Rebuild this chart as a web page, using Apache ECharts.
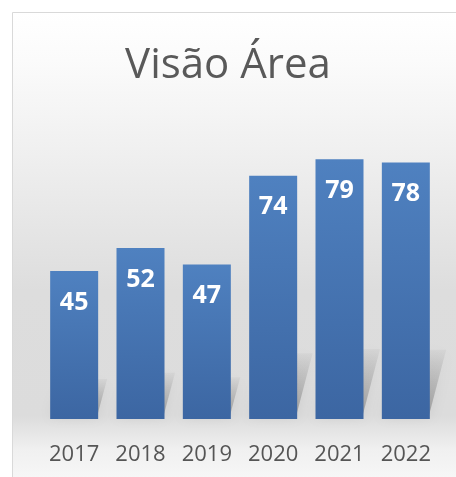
<!DOCTYPE html>
<html>
<head>
<meta charset="utf-8">
<script src="https://cdn.jsdelivr.net/npm/echarts@6/dist/echarts.min.js"></script>
<style>
  html, body { margin: 0; padding: 0; background: #fff; }
  #main { width: 456px; height: 477px; }
</style>
</head>
<body>
<div id="main"></div>
<script>
const title = 'Visão Área';
const years = ['2017', '2018', '2019', '2020', '2021', '2022'];
const values = [45, 52, 47, 74, 79, 78];

const chart = echarts.init(document.getElementById('main'));
const FONT = '"Open Sans", "Noto Sans", sans-serif';

// soft perspective shadow behind each bar
function shadowItem(params, api) {
    const idx = api.value(0);
    const top = api.coord([idx, api.value(1)]);
    const base = api.coord([idx, 0]);
    const h = base[1] - top[1];
    const sh = h * 0.27;
    const sx = sh * 0.25;
    const hw = 23;
    return {
        type: 'polygon',
        shape: {
            points: [
                [base[0] - hw, base[1] - 3],
                [base[0] + hw, base[1] - 3],
                [base[0] + hw + sx, base[1] - sh],
                [base[0] - hw + sx, base[1] - sh]
            ]
        },
        style: {
            fill: new echarts.graphic.LinearGradient(0, 0, 0, 1, [
                { offset: 0, color: 'rgba(0,0,0,0.03)' },
                { offset: 1, color: 'rgba(0,0,0,0.25)' }
            ]),
            shadowBlur: 14,
            shadowColor: 'rgba(0,0,0,0.35)'
        }
    };
}

const option = {
    animation: false,
    backgroundColor: '#ffffff',
    graphic: [{
        type: 'rect',
        z: -10,
        silent: true,
        shape: { x: 12.5, y: 12.5, width: 460, height: 480 },
        style: {
            stroke: '#d9d9d9',
            lineWidth: 1,
            fill: new echarts.graphic.LinearGradient(0, 0, 0, 1, [
                { offset: 0, color: '#ffffff' },
                { offset: 0.1, color: '#fbfbfb' },
                { offset: 0.3, color: '#efefef' },
                { offset: 0.58, color: '#dddddd' },
                { offset: 0.84, color: '#dcdcdc' },
                { offset: 0.91, color: '#f0f0f0' },
                { offset: 1, color: '#fafafa' }
            ])
        }
    }],
    title: {
        text: title,
        left: 'center',
        top: 40,
        textStyle: {
            fontFamily: FONT,
            fontSize: 42,
            fontWeight: 'normal',
            color: '#595959'
        }
    },
    grid: {
        left: 41,
        width: 398,
        top: 156,
        height: 263,
        containLabel: false
    },
    xAxis: {
        type: 'category',
        data: years,
        axisLine: { show: false },
        axisTick: { show: false },
        axisLabel: {
            interval: 0,
            margin: 25,
            fontFamily: FONT,
            fontSize: 22,
            color: '#555555'
        }
    },
    yAxis: {
        type: 'value',
        min: 0,
        max: 80,
        show: false,
        splitLine: { show: false }
    },
    series: [{
        type: 'custom',
        z: 1,
        renderItem: shadowItem,
        data: values.map((v, i) => [i, v]),
        silent: true
    }, {
        type: 'bar',
        z: 2,
        data: values,
        barWidth: 48,
        itemStyle: {
            color: new echarts.graphic.LinearGradient(0, 0, 0, 1, [
                { offset: 0, color: '#4f81c0' },
                { offset: 1, color: '#3c66a2' }
            ])
        },
        label: {
            show: true,
            position: 'insideTop',
            distance: 19,
            fontFamily: FONT,
            fontSize: 25,
            fontWeight: 'bold',
            color: '#ffffff'
        }
    }]
};

chart.setOption(option);
</script>
</body>
</html>
